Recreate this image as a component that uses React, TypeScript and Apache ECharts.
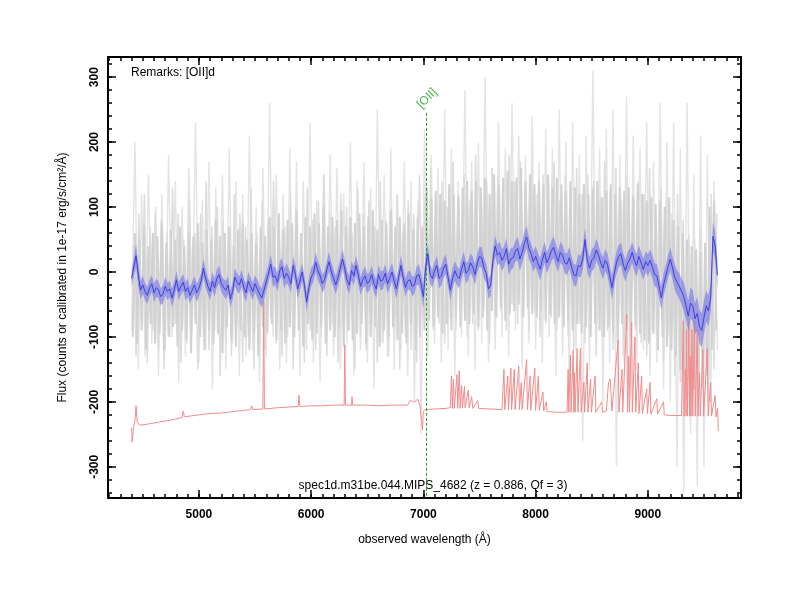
import React, { useEffect, useRef } from "react";
import * as echarts from "echarts";

const X_MIN = 4190;
const X_MAX = 9830;
const Y_MIN = -348;
const Y_MAX = 331;

const xMajorTicks = [5000, 6000, 7000, 8000, 9000];
const xMinorTicks = Array.from({ length: 57 }, (_, i) => 4200 + 100 * i);
const yMajorTicks = [-300, -200, -100, 0, 100, 200, 300];
const yMinorTicks = Array.from({ length: 34 }, (_, i) => -340 + 20 * i);

// smoothed spectrum (blue), grid 4400 + 20*i
const blueStart = 4400;
const blueStep = 20;
const blueFlux = [
  -10, 8, 25, -5, -28, -20, -30, -36, -25, -18, -32, -24, -28, -38, -34, -22, -30, -26, -40, -28,
  -12, -30, -22, -16, -30, -24, -36, -28, -20, -32, -25, -14, 6, -10, -22, -30, -14, -24, -10, -4,
  -18, -24, -28, -20, -42, -30, -8, -16, -20, -10, -24, -32, -14, -22, -30, -18, -26, -34, -40, -28,
  -15, -2, 12, -8, -6, -16, 2, 8, -10, -2, -8, -18, 10, -4, -26, -14, 0, -20, -46, -24,
  -8, -2, 15, 2, -6, -18, -12, 4, 16, 0, -10, -20, -8, 6, 20, 4, -12, -20, 2, -6,
  10, -4, -22, -12, -6, -18, -14, -4, -18, -26, -4, -14, -12, -2, -18, -10, 0, -14, -26, -8,
  10, -8, -24, -14, -12, -22, -20, -6, -4, -18, -38, 8, 28, -4, -10, 2, 10, -10, -6, 6,
  12, -8, -28, -10, 2, -6, -10, 4, 16, -2, 2, 14, 8, -4, 14, 24, 22, 6, -2, -26,
  -20, 18, 40, 26, 30, 18, 24, 36, 12, 20, 22, 32, 36, 20, 30, 44, 54, 36, 28, 16,
  24, 14, 4, 18, 30, 14, 22, 32, 38, 26, 16, 30, 26, 14, 12, 22, 8, -4, -6, 10,
  8, 20, 50, 18, 6, 18, 22, 34, 26, 14, 6, 18, 12, -6, -24, -4, 14, 24, 28, 12,
  2, 14, 20, 30, 18, 10, 24, 14, 4, 16, 10, 18, 8, -4, -6, -22, -40, -20, -6, 8,
  20, 6, -8, -16, -22, -30, -38, -52, -68, -48, -52, -72, -64, -84, -90, -70, -52, -60, -40, 55,
  40, -5,
];
// half-width of the shaded uncertainty band, grid 4400 + 40*i
const errStart = 4400;
const errStep = 40;
const blueErr = [
  14, 18, 14, 13, 13, 14, 13, 14, 13, 14,
  14, 13, 14, 13, 14, 13, 14, 13, 14, 14,
  13, 14, 13, 14, 13, 14, 14, 13, 14, 15,
  14, 15, 14, 14, 15, 14, 14, 15, 14, 15,
  14, 15, 14, 14, 15, 14, 14, 15, 14, 15,
  15, 14, 15, 14, 14, 15, 14, 15, 14, 15,
  15, 14, 15, 14, 16, 18, 15, 14, 15, 15,
  15, 16, 15, 15, 16, 15, 16, 15, 16, 15,
  17, 16, 17, 16, 17, 16, 18, 17, 17, 16,
  16, 17, 16, 16, 17, 16, 16, 17, 16, 17,
  17, 18, 17, 17, 16, 17, 17, 18, 17, 17,
  17, 16, 17, 17, 16, 17, 18, 18, 18, 17,
  18, 19, 20, 22, 24, 24, 26, 26, 24, 22,
  22, 18,
];

// raw spectrum, wide excursions (light gray), grid 4400 + 30*i
const grayWideStart = 4400;
const grayWideStep = 30;
const grayWide = [
  -90, 200, -150, 120, -130, 150, -110, 90, -160, 120,
  -120, 180, -100, 140, -170, 100, -130, 160, -90, 230,
  -140, 110, -120, 170, -180, 130, -100, 150, -150, 190,
  -110, 140, -160, 120, -130, 210, -120, 100, -170, 160,
  -130, 260, -100, 150, -150, 120, -140, 190, -110, 170,
  -160, 140, -120, 230, -140, 110, -170, 150, -100, 180,
  -130, 160, -150, 120, -110, 200, -160, 140, -120, 170,
  -140, 130, -180, 250, -110, 150, -130, 190, -150, 120,
  -120, 170, -160, 140, -200, 110, -250, 220, -130, 180,
  -110, 160, -140, 250, -120, 190, -160, 140, -100, 280,
  -130, 170, -150, 200, -110, 300, -140, 160, -120, 230,
  -100, 190, -130, 260, -90, 210, -150, 180, -110, 240,
  -120, 170, -140, 220, -100, 190, -160, 250, -130, 200,
  -170, 230, -120, 180, -260, 210, -150, 310, -110, 190,
  -200, 220, -140, 250, -300, 180, -130, 270, -190, 210,
  -150, 190, -120, 230, -160, 170, -140, 260, -180, 200,
  -200, 230, -300, 190, -340, 260, -250, 150, -330, 210,
  -300, 180, -200, 140, -120,
];

// raw spectrum, intermediate excursions, grid 4415 + 25*i
const grayMidStart = 4415;
const grayMidStep = 25;
const grayMid = [
  40, -130, 90, -60, 120, -140, 70, -90, 100, -120,
  80, -150, 60, -100, 130, -80, 90, -140, 50, -110,
  110, -70, 60, -150, 90, -100, 140, -120, 70, -90,
  100, -160, 80, -110, 60, -130, 120, -80, 90, -140,
  70, -100, 130, -150, 60, -90, 110, -120, 80, -70,
  140, -110, 90, -130, 70, -100, 120, -150, 100, -80,
  60, -140, 130, -90, 80, -120, 110, -100, 150, -130,
  90, -80, 70, -140, 120, -110, 100, -90, 60, -150,
  130, -100, 90, -120, 110, -80, 70, -140, 140, -110,
  80, -130, 100, -90, 120, -150, 60, -100, 110, -120,
  90, -140, 150, -70, 120, -100, 160, -90, 110, -80,
  140, -110, 100, -70, 170, -90, 120, -60, 150, -100,
  110, -80, 180, -90, 130, -60, 140, -110, 160, -70,
  150, -60, 120, -90, 180, -50, 140, -80, 170, -70,
  130, -90, 160, -60, 120, -100, 150, -80, 140, -70,
  170, -90, 110, -60, 150, -100, 130, -120, 160, -80,
  120, -110, 150, -90, 140, -130, 110, -100, 170, -90,
  130, -120, 160, -80, 110, -140, 150, -100, 120, -90,
  140, -110, 120, -130, 160, -90, 100, -120, 130, -140,
  110, -100, 90, -160, 120, -170, 80, -190, 60, -200,
  50, -210, 70, -180, 40, -200, 120, -150, 90,
];

// raw spectrum, core (mid gray), grid 4410 + 20*i
const grayCoreStart = 4410;
const grayCoreStep = 20;
const grayCore = [
  -100, 60, -110, 50, -90, 70, -120, 40, -80, 60,
  -110, 55, -95, 75, -120, 45, -100, 65, -85, 50,
  -115, 70, -90, 40, -105, 60, -125, 55, -80, 75,
  -100, 45, -120, 65, -90, 50, -110, 80, -95, 55,
  -125, 60, -85, 70, -105, 40, -115, 65, -90, 75,
  -100, 50, -120, 60, -95, 45, -130, 70, -85, 55,
  -95, 85, -80, 70, -105, 90, -90, 65, -110, 80,
  -85, 75, -100, 95, -90, 60, -115, 85, -80, 70,
  -105, 90, -95, 75, -85, 100, -110, 70, -90, 85,
  -100, 80, -85, 95, -115, 70, -90, 85, -105, 75,
  -95, 90, -80, 70, -110, 85, -100, 95, -85, 65,
  -115, 80, -90, 75, -100, 95, -85, 70, -105, 85,
  -95, 75, -110, 90, -80, 65, -120, 85, -100, 70,
  -90, 130, -75, 115, -85, 125, -70, 120, -95, 110,
  -80, 135, -90, 120, -70, 115, -85, 130, -75, 140,
  -80, 125, -65, 140, -85, 130, -70, 145, -90, 120,
  -60, 150, -70, 135, -55, 145, -75, 155, -65, 140,
  -60, 145, -50, 160, -70, 140, -55, 150, -65, 135,
  -70, 140, -60, 135, -75, 150, -65, 130, -80, 145,
  -70, 135, -85, 125, -75, 140, -90, 130, -80, 120,
  -95, 135, -85, 120, -100, 130, -80, 140, -90, 115,
  -100, 125, -85, 135, -95, 120, -110, 130, -80, 125,
  -90, 130, -100, 115, -85, 135, -95, 120, -105, 110,
  -110, 115, -95, 105, -120, 110, -100, 100, -115, 115,
  -120, 80, -130, 70, -150, 60, -160, 50, -170, 40,
  -180, 35, -190, 30, -170, 45, -160, 100, -120, 110,
  -90,
];

// sky spectrum (red), offset
const redWave = [
  4400, 4405, 4420, 4430, 4440, 4450, 4470, 4550, 4650, 4750, 4850, 4861, 4870,
  5000, 5100, 5200, 5300, 5400, 5460, 5470, 5480, 5570, 5577, 5584, 5700, 5800,
  5885, 5892, 5900, 6000, 6100, 6200, 6294, 6300, 6306, 6360, 6364, 6370, 6500,
  6600, 6700, 6800, 6860, 6880, 6920, 6950, 6968, 6985, 6992, 7000, 7013, 7100,
  7200, 7240, 7250, 7258, 7268, 7275, 7300, 7306, 7320, 7328, 7340, 7348, 7366,
  7372, 7400, 7408, 7430, 7440, 7485, 7492, 7600, 7700, 7718, 7725, 7752, 7758,
  7780, 7786, 7810, 7817, 7850, 7856, 7872, 7880, 7920, 7927, 7950, 7957, 7993,
  8000, 8025, 8032, 8065, 8072, 8095, 8102, 8200, 8280, 8290, 8296, 8310, 8316,
  8335, 8341, 8345, 8352, 8370, 8377, 8400, 8406, 8430, 8437, 8460, 8466, 8490,
  8497, 8530, 8537, 8590, 8597, 8630, 8650, 8665, 8680, 8735, 8742, 8770, 8776,
  8812, 8819, 8830, 8836, 8856, 8862, 8885, 8892, 8915, 8921, 8945, 8951, 8990,
  8996, 9020, 9027, 9080, 9086, 9140, 9146, 9200, 9300, 9315, 9322, 9335, 9341,
  9346, 9353, 9365, 9372, 9378, 9384, 9393, 9400, 9415, 9422, 9440, 9447, 9460,
  9467, 9490, 9497, 9530, 9537, 9560, 9567, 9600, 9607, 9622, 9628,
];
const redFlux = [
  -240, -262, -236, -228, -206, -230, -236, -234, -231, -228, -224, -214, -223,
  -220, -218, -217, -215, -213, -212, -206, -212, -211, -45, -211, -209, -208,
  -207, -190, -207, -206, -206, -205, -205, -112, -205, -205, -192, -205, -205,
  -206, -205, -205, -205, -198, -200, -196, -205, -230, -243, -215, -212, -211,
  -210, -209, -160, -210, -165, -210, -158, -210, -152, -210, -175, -209, -176,
  -209, -182, -209, -192, -210, -198, -210, -211, -212, -150, -212, -160, -212,
  -148, -212, -150, -212, -145, -212, -170, -212, -135, -212, -160, -213, -148,
  -213, -160, -213, -185, -214, -200, -215, -216, -216, -150, -216, -128, -216,
  -120, -216, -155, -216, -118, -216, -117, -216, -170, -216, -140, -216, -165,
  -216, -160, -216, -200, -216, -214, -170, -165, -214, -105, -216, -150, -216,
  -65, -216, -130, -216, -77, -216, -100, -216, -140, -218, -160, -218, -180,
  -218, -170, -219, -195, -219, -200, -220, -221, -221, -75, -222, -150, -222,
  -89, -222, -77, -222, -130, -222, -88, -222, -77, -222, -89, -222, -155,
  -222, -120, -222, -117, -222, -170, -222, -190, -223, -210, -245,
];

const oiiWave = 7029;
const oiiTop = 245;
const oiiLabelY = 268;

const FONT = "Liberation Sans";

function makeX(position: string, ticks: number[], len: number, showLine: boolean, label: boolean, name?: string) {
  return {
    type: "value",
    min: X_MIN,
    max: X_MAX,
    position,
    axisLine: { show: showLine, onZero: false, lineStyle: { color: "#000", width: 2 } },
    axisTick: { show: true, inside: true, length: len, customValues: ticks, lineStyle: { color: "#000", width: 1.5 } },
    axisLabel: label
      ? {
          show: true,
          customValues: ticks,
          formatter: (v: number) => String(v),
          margin: 10,
          fontFamily: FONT,
          fontSize: 12,
          fontWeight: "bold",
          color: "#000",
        }
      : { show: false },
    splitLine: { show: false },
    name: name || "",
    nameLocation: "middle",
    nameGap: 35,
    nameTextStyle: { fontFamily: FONT, fontSize: 12, color: "#000" },
  };
}

function makeY(position: string, ticks: number[], len: number, showLine: boolean, label: boolean, name?: string) {
  return {
    type: "value",
    min: Y_MIN,
    max: Y_MAX,
    position,
    axisLine: { show: showLine, onZero: false, lineStyle: { color: "#000", width: 2 } },
    axisTick: { show: true, inside: true, length: len, customValues: ticks, lineStyle: { color: "#000", width: 1.5 } },
    axisLabel: label
      ? {
          show: true,
          customValues: ticks,
          formatter: (v: number) => String(v),
          margin: 8,
          rotate: 90,
          fontFamily: FONT,
          fontSize: 12,
          fontWeight: "bold",
          color: "#000",
        }
      : { show: false },
    splitLine: { show: false },
    name: name || "",
    nameLocation: "middle",
    nameRotate: 90,
    nameGap: 40,
    nameTextStyle: { fontFamily: FONT, fontSize: 12, color: "#000" },
  };
}

export default function App() {
  const ref = useRef<HTMLDivElement>(null);
  useEffect(() => {
    if (!ref.current) return;
    const chart = echarts.init(ref.current, null, { renderer: "svg" });
    const blueData = blueFlux.map((v, i) => [blueStart + blueStep * i, v]);
    const wideData = grayWide.map((v, i) => [grayWideStart + grayWideStep * i, v]);
    const midData = grayMid.map((v, i) => [grayMidStart + grayMidStep * i, v]);
    const coreData = grayCore.map((v, i) => [grayCoreStart + grayCoreStep * i, v]);
    const redData = redFlux.map((v, i) => [redWave[i], v]);
    const errAt = (x: number) => {
      const k = Math.min(blueErr.length - 1, Math.floor((x - errStart) / errStep));
      return blueErr[k];
    };

    const bandRender = (params: any, api: any) => {
      if (params.dataIndex !== 0) return null;
      const upper: number[][] = [];
      const lower: number[][] = [];
      blueFlux.forEach((v, i) => {
        const x = blueStart + blueStep * i;
        const e = errAt(x);
        upper.push(api.coord([x, v + e]));
        lower.push(api.coord([x, v - e]));
      });
      const points = upper.concat(lower.reverse());
      return {
        type: "polygon",
        shape: { points },
        style: { fill: "rgba(115,115,235,0.6)", stroke: "none" },
        silent: true,
      };
    };

    chart.setOption({
      animation: false,
      grid: { left: 108, right: 59, top: 57, bottom: 102 },
      xAxis: [
        makeX("bottom", xMajorTicks, 8, true, true, "observed wavelength (Å)"),
        makeX("bottom", xMinorTicks, 4, false, false),
        makeX("top", xMajorTicks, 8, true, false),
        makeX("top", xMinorTicks, 4, false, false),
      ],
      yAxis: [
        makeY("left", yMajorTicks, 8, true, true, "Flux (counts or calibrated in 1e-17 erg/s/cm²/Å)"),
        makeY("left", yMinorTicks, 4, false, false),
        makeY("right", yMajorTicks, 8, true, false),
        makeY("right", yMinorTicks, 4, false, false),
      ],
      graphic: [
        {
          type: "text",
          left: 131,
          top: 66,
          style: { text: "Remarks: [OII]d", font: `12px "${FONT}"`, fill: "#000" },
        },
        {
          type: "text",
          x: 433,
          y: 485,
          style: {
            text: "spec1d.m31be.044.MIPS_4682 (z = 0.886, Qf = 3)",
            font: `12px "${FONT}"`,
            fill: "#000",
            textAlign: "center",
            textVerticalAlign: "middle",
          },
        },
      ],
      series: [
        {
          type: "line",
          data: wideData,
          symbol: "none",
          lineStyle: { color: "#e4e4e4", width: 1.4 },
          silent: true,
          z: 1,
        },
        {
          type: "line",
          data: midData,
          symbol: "none",
          lineStyle: { color: "#dcdcdc", width: 1.4 },
          silent: true,
          z: 1,
        },
        {
          type: "line",
          data: coreData,
          symbol: "none",
          lineStyle: { color: "#d2d2d2", width: 2 },
          silent: true,
          z: 2,
        },
        {
          type: "line",
          data: redData,
          symbol: "none",
          lineStyle: { color: "#f28c8c", width: 1 },
          silent: true,
          z: 3,
        },
        {
          type: "custom",
          data: [[blueStart, 0]],
          renderItem: bandRender,
          clip: true,
          silent: true,
          z: 4,
        },
        {
          type: "line",
          data: blueData,
          symbol: "none",
          lineStyle: { color: "#3535e2", width: 0.9 },
          silent: true,
          z: 5,
        },
        {
          type: "scatter",
          data: [[oiiWave, oiiLabelY]],
          symbolSize: 0,
          silent: true,
          z: 6,
          label: {
            show: true,
            formatter: "[OII]",
            position: "inside",
            rotate: 45,
            color: "#22a022",
            fontFamily: FONT,
            fontSize: 12,
          },
          markLine: {
            silent: true,
            symbol: ["none", "none"],
            label: { show: false },
            lineStyle: { color: "#22a022", width: 1, type: [3, 2] },
            data: [[{ coord: [oiiWave, oiiTop] }, { coord: [oiiWave, Y_MIN] }]],
          },
        },
      ],
    });
    return () => chart.dispose();
  }, []);
  return <div ref={ref} style={{ position: "fixed", left: 0, top: 0, width: 800, height: 600 }} />;
}
